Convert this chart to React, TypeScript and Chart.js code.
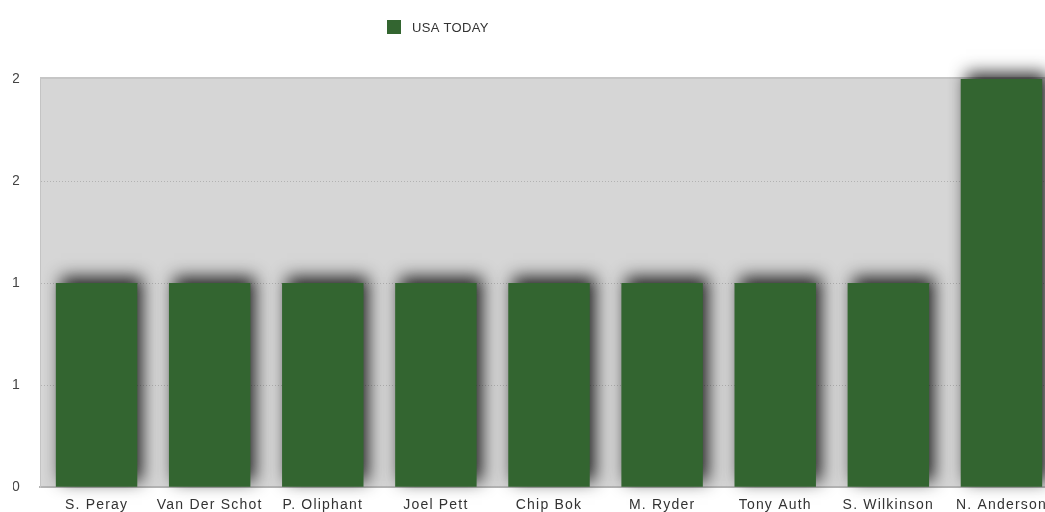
import React, { useEffect, useRef } from "react";
import { Chart, registerables } from "chart.js";

Chart.register(...registerables);

const categories = [
  "S. Peray",
  "Van Der Schot",
  "P. Oliphant",
  "Joel Pett",
  "Chip Bok",
  "M. Ryder",
  "Tony Auth",
  "S. Wilkinson",
  "N. Anderson",
];
const seriesName = "USA TODAY";
const seriesValues = [1, 1, 1, 1, 1, 1, 1, 1, 2];
const yTickValues = [0, 0.5, 1, 1.5, 2];

const BAR_COLOR = "#336530";
const PLOT_BG = "#d6d6d6";
const FONT = "'Liberation Sans', Arial, Helvetica, sans-serif";

const plotBgPlugin = {
  id: "plotBg",
  beforeDraw(chart: any) {
    const { ctx, chartArea } = chart;
    if (!chartArea) return;
    (ctx as any).letterSpacing = "1.2px";
    ctx.save();
    ctx.fillStyle = PLOT_BG;
    ctx.fillRect(chartArea.left, chartArea.top, chartArea.right - chartArea.left, chartArea.bottom - chartArea.top);
    ctx.strokeStyle = "#c6c6c6";
    ctx.lineWidth = 2;
    ctx.beginPath();
    ctx.moveTo(chartArea.left, chartArea.top - 1);
    ctx.lineTo(chartArea.right, chartArea.top - 1);
    ctx.stroke();
    ctx.restore();
  },
};

const shadowPlugin = {
  id: "barShadow",
  beforeDatasetsDraw(chart: any) {
    const ctx = chart.ctx;
    ctx.save();
    ctx.shadowColor = "rgba(0,0,0,0.85)";
    ctx.shadowBlur = 16;
    ctx.shadowOffsetX = 5;
    ctx.shadowOffsetY = -6;
  },
  afterDatasetsDraw(chart: any) {
    chart.ctx.restore();
  },
};

const customLegendPlugin = {
  id: "customLegend",
  afterDraw(chart: any) {
    const { ctx, chartArea } = chart;
    if (!chartArea) return;
    const x = chartArea.left + 347;
    const y = 27;
    ctx.save();
    (ctx as any).letterSpacing = "0.3px";
    ctx.fillStyle = BAR_COLOR;
    ctx.fillRect(x, y - 7, 14, 14);
    ctx.fillStyle = "#333333";
    ctx.font = `13px ${FONT}`;
    ctx.textBaseline = "middle";
    ctx.textAlign = "left";
    ctx.fillText(seriesName, x + 25, y + 1);
    ctx.restore();
  },
};

export default function App() {
  const canvasRef = useRef<HTMLCanvasElement | null>(null);

  useEffect(() => {
    document.body.style.margin = "0";
    const canvas = canvasRef.current;
    if (!canvas) return;
    const chart = new Chart(canvas, {
      type: "bar",
      data: {
        labels: categories,
        datasets: [
          {
            label: seriesName,
            data: seriesValues,
            backgroundColor: BAR_COLOR,
            borderWidth: 0,
            categoryPercentage: 1,
            barPercentage: 0.72,
            clip: false as any,
          },
        ],
      },
      options: {
        animation: false,
        responsive: false,
        devicePixelRatio: 1,
        layout: { padding: { top: 79, left: 13, right: 7, bottom: 8 } },
        plugins: {
          legend: { display: false },
          tooltip: { enabled: false },
        },
        scales: {
          x: {
            grid: { display: false, drawTicks: false },
            border: { display: true, color: "#b4b4b4", width: 2 },
            ticks: {
              color: "#333333",
              font: { family: FONT, size: 14 },
              padding: 10,
              maxRotation: 0,
              autoSkip: false,
            },
          },
          y: {
            min: 0,
            max: 2,
            afterBuildTicks(axis: any) {
              axis.ticks = yTickValues.map((v) => ({ value: v }));
            },
            afterFit(axis: any) {
              axis.width = 27;
            },
            grid: {
              drawTicks: false,
              color: (c: any) => (c.tick && c.tick.value === 2 ? "rgba(0,0,0,0)" : "#b2b2b2"),
              lineWidth: 1,
            },
            border: { display: true, color: "#c4c4c4", width: 1, dash: [1, 2] },
            ticks: {
              color: "#444444",
              font: { family: FONT, size: 14 },
              padding: 19,
              callback: (v: any) => String(Math.round(Number(v))),
            },
          },
        },
      },
      plugins: [plotBgPlugin, shadowPlugin, customLegendPlugin],
    });
    return () => chart.destroy();
  }, []);

  return (
    <div style={{ width: 1045, height: 512, overflow: "hidden", position: "relative" }}>
      <canvas ref={canvasRef} width={1065} height={532} style={{ display: "block" }} />
    </div>
  );
}
